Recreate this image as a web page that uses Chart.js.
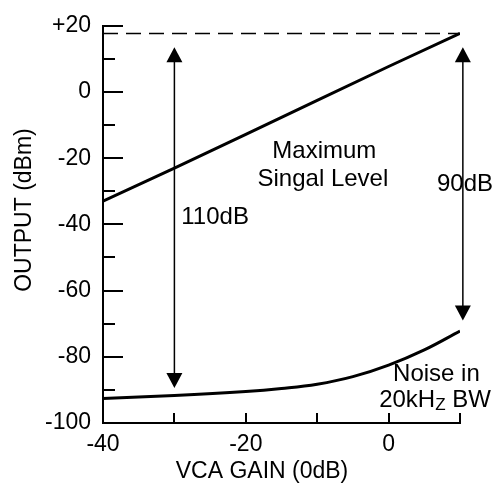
<!DOCTYPE html>
<html>
<head>
<meta charset="utf-8">
<script src="https://cdn.jsdelivr.net/npm/chart.js@4/dist/chart.umd.min.js"></script>
<style>
html,body{margin:0;padding:0;background:#fff;}
#wrap{width:494px;height:486px;}
</style>
</head>
<body>
<div id="wrap"><canvas id="c" width="494" height="486"></canvas></div>
<script>
// ---- data ----
const gainMax = [-40, -30, -20, -10, 0, 10];
const maxSignal = [-33.0, -23.0, -12.8, -2.5, 7.7, 17.7];
const gainNoise = [-40, -30, -20, -15, -10, -5, 0, 5, 10];
const noiseLevel = [-92.6, -91.7, -90.5, -89.6, -88.3, -86.0, -82.5, -77.9, -72.2];
const refLevel = 17.7;             // dashed +18 dBm reference
const arrowGain = [-30, 10.4];
const arrowTop = [13.5, 13.5];
const arrowBottom = [-89.4, -69.0];
const yTickLabels = {20:'+20', 0:'0', '-20':'-20', '-40':'-40', '-60':'-60', '-80':'-80', '-100':'-100'};
const xTickLabels = {'-40':'-40', '-20':'-20', 0:'0'};

const FONT = '"Liberation Sans", Arial, sans-serif';

const toXY = (xs, ys) => xs.map((x, i) => ({x, y: ys[i]}));

const decor = {
  id: 'decor',
  afterDatasetsDraw(chart) {
    const ctx = chart.ctx;
    const xs = chart.scales.x, ys = chart.scales.y;
    const ca = chart.chartArea;
    ctx.save();
    ctx.strokeStyle = '#000';
    ctx.fillStyle = '#000';
    // inward tick marks on y axis
    ctx.lineWidth = 2;
    for (let v = -90; v <= 20; v += 10) {
      const py = Math.round(ys.getPixelForValue(v));
      const len = (v % 20 === 0) ? 20 : 12;
      ctx.beginPath();
      ctx.moveTo(ca.left, py);
      ctx.lineTo(ca.left + len, py);
      ctx.stroke();
    }
    // inward tick marks on x axis
    for (let v = -30; v <= 10; v += 10) {
      const px = Math.round(xs.getPixelForValue(v));
      ctx.beginPath();
      ctx.moveTo(px, ca.bottom);
      ctx.lineTo(px, ca.bottom - 10);
      ctx.stroke();
    }
    // arrows
    ctx.lineWidth = 1.5;
    const head = (x, y, dir) => {
      ctx.beginPath();
      ctx.moveTo(x, y);
      ctx.lineTo(x - 8, y - dir * 15);
      ctx.lineTo(x + 8, y - dir * 15);
      ctx.closePath();
      ctx.fill();
    };
    arrowGain.forEach((g, i) => {
      const px = xs.getPixelForValue(g);
      const pt = ys.getPixelForValue(arrowTop[i]);
      const pb = ys.getPixelForValue(arrowBottom[i]);
      ctx.beginPath();
      ctx.moveTo(px, pt + 10);
      ctx.lineTo(px, pb - 10);
      ctx.stroke();
      head(px, pt, -1);
      head(px, pb, 1);
    });
    // annotation text
    ctx.textAlign = 'center';
    ctx.textBaseline = 'middle';
    ctx.font = '24px ' + FONT;
    const txt = (s, gx, gy) => ctx.fillText(s, xs.getPixelForValue(gx), ys.getPixelForValue(gy));
    txt('Maximum', -9.0, -18.0);
    txt('Singal Level', -9.2, -26.3);
    txt('110dB', -24.3, -37.8);
    txt('90dB', 10.7, -27.8);
    txt('Noise in', 6.7, -85.3);
    // "20kHZ BW" with subscript Z
    {
      const cx = xs.getPixelForValue(6.5), cy = ys.getPixelForValue(-93.2);
      const a = '20kH', b = 'Z', c = ' BW';
      ctx.font = '24px ' + FONT;
      const wa = ctx.measureText(a).width, wc = ctx.measureText(c).width;
      ctx.font = '17px ' + FONT;
      const wb = ctx.measureText(b).width;
      let x0 = cx - (wa + wb + wc) / 2;
      ctx.textAlign = 'left';
      ctx.font = '24px ' + FONT;
      ctx.fillText(a, x0, cy);
      ctx.font = '17px ' + FONT;
      ctx.fillText(b, x0 + wa, cy + 5);
      ctx.font = '24px ' + FONT;
      ctx.fillText(c, x0 + wa + wb, cy);
    }
    // axis titles
    ctx.textAlign = 'center';
    ctx.font = '23px ' + FONT;
    ctx.fillText('VCA GAIN (0dB)', 262, 472);
    ctx.save();
    ctx.translate(25, 210);
    ctx.rotate(-Math.PI / 2);
    ctx.fillText('OUTPUT (dBm)', 0, 0);
    ctx.restore();
    ctx.restore();
  }
};

new Chart(document.getElementById('c'), {
  type: 'line',
  data: {
    datasets: [
      {
        label: 'Maximum Singal Level',
        data: toXY(gainMax, maxSignal),
        borderColor: '#000', borderWidth: 3, pointRadius: 0, tension: 0, fill: false
      },
      {
        label: 'Noise in 20kHz BW',
        data: toXY(gainNoise, noiseLevel),
        borderColor: '#000', borderWidth: 3, pointRadius: 0,
        tension: 0.4, fill: false
      },
      {
        label: 'ref',
        data: toXY([-40, 10], [refLevel, refLevel]),
        borderColor: '#000', borderWidth: 1.5, borderDash: [15, 8], pointRadius: 0, fill: false
      }
    ]
  },
  options: {
    responsive: false,
    animation: false,
    devicePixelRatio: 1,
    layout: { padding: { top: 16, right: 34, left: 0, bottom: 0 } },
    plugins: { legend: { display: false }, tooltip: { enabled: false }, title: { display: false } },
    scales: {
      x: {
        type: 'linear', min: -40, max: 10,
        grid: { display: false, drawTicks: false },
        border: { display: true, color: '#000', width: 2 },
        ticks: {
          stepSize: 10, autoSkip: false, maxRotation: 0, padding: 8,
          color: '#000', font: { family: FONT, size: 23 },
          callback: v => (xTickLabels[v] !== undefined ? xTickLabels[v] : '')
        },
        afterFit: s => { s.height = 63; }
      },
      y: {
        type: 'linear', min: -100, max: 20,
        grid: { display: false, drawTicks: false },
        border: { display: true, color: '#000', width: 2 },
        ticks: {
          stepSize: 10, autoSkip: false, padding: 12,
          color: '#000', font: { family: FONT, size: 23 },
          callback: v => (yTickLabels[v] !== undefined ? yTickLabels[v] : '')
        },
        afterFit: s => { s.width = 103; }
      }
    }
  },
  plugins: [decor]
});
</script>
</body>
</html>
